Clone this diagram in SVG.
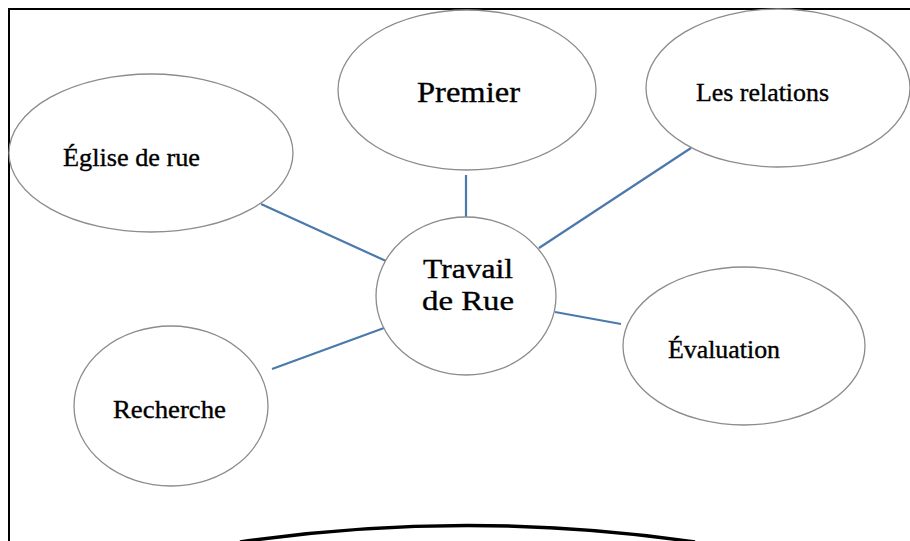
<svg xmlns="http://www.w3.org/2000/svg" width="910" height="541" viewBox="0 0 910 541">
<style>
.node ellipse{fill:#fff;stroke:#8c8c8c;stroke-width:1.3}
.lbl{font-family:"Liberation Serif","DejaVu Serif",serif;fill:#000;text-anchor:middle;stroke:#000;stroke-width:0.35}
.conn line{stroke:#4a7aab;stroke-width:2.2}
</style>
<rect x="0" y="0" width="910" height="541" fill="#fff"/>
<path d="M9,541 V9 H910" fill="none" stroke="#000" stroke-width="2"/>
<g class="conn" id="connectors">
<line x1="466" y1="175" x2="466" y2="217"/>
<line x1="539" y1="248" x2="691" y2="148"/>
<line x1="261" y1="204" x2="386" y2="261"/>
<line x1="555" y1="312" x2="621" y2="324"/>
<line x1="272" y1="369" x2="384" y2="328"/>
</g>
<g class="node" id="premier"><ellipse cx="467" cy="90" rx="129" ry="80"/><text class="lbl" x="468.5" y="102" font-size="30" textLength="103" lengthAdjust="spacingAndGlyphs">Premier</text></g>
<g class="node" id="relations"><ellipse cx="778" cy="88" rx="132" ry="79"/><text class="lbl" x="762.5" y="101" font-size="25" textLength="133" lengthAdjust="spacingAndGlyphs">Les relations</text></g>
<g class="node" id="eglise"><ellipse cx="151" cy="153" rx="142" ry="79"/><text class="lbl" x="131.5" y="166" font-size="25" textLength="137" lengthAdjust="spacingAndGlyphs">Église de rue</text></g>
<g class="node" id="travail"><ellipse cx="466" cy="296" rx="90" ry="79"/><text class="lbl" x="468" y="278" font-size="28" textLength="90" lengthAdjust="spacingAndGlyphs">Travail</text><text class="lbl" x="468" y="310" font-size="28" textLength="92" lengthAdjust="spacingAndGlyphs">de Rue</text></g>
<g class="node" id="evaluation"><ellipse cx="744" cy="346" rx="121" ry="79"/><text class="lbl" x="724" y="358" font-size="25" textLength="112" lengthAdjust="spacingAndGlyphs">Évaluation</text></g>
<g class="node" id="recherche"><ellipse cx="171" cy="406" rx="97" ry="80"/><text class="lbl" x="169.5" y="418" font-size="25" textLength="113" lengthAdjust="spacingAndGlyphs">Recherche</text></g>
<path d="M240,542 Q467,509 695,542" fill="none" stroke="#000" stroke-width="3.5"/>
</svg>
